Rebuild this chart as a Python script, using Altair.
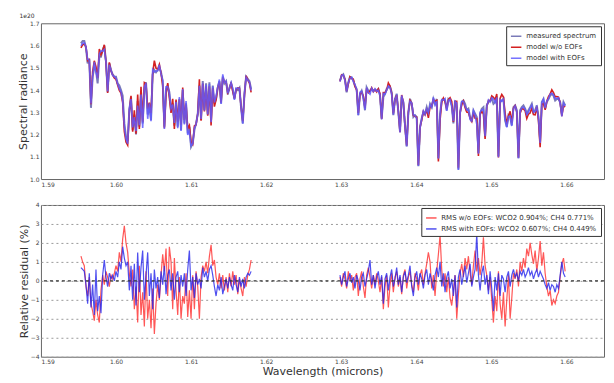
import altair as alt
import pandas as pd

# Wavelength grid (microns): two spectral windows sampled on the same step
STEP = 0.0002222
BAND1_START = 1.59533
BAND2_START = 1.62983

# Measured spectral radiance (units of 1e20)
radiance_band1 = [
    1.61, 1.62, 1.62, 1.59, 1.52, 1.54, 1.32, 1.46, 1.50, 1.49,
    1.43, 1.55, 1.55, 1.58, 1.60, 1.53, 1.39, 1.52, 1.49, 1.47,
    1.46, 1.46, 1.43, 1.42, 1.40, 1.375, 1.25, 1.19, 1.17, 1.31,
    1.37, 1.22, 1.29, 1.20, 1.35, 1.235, 1.39, 1.25, 1.40, 1.435,
    1.29, 1.33, 1.265, 1.47, 1.49, 1.48, 1.49, 1.50, 1.48, 1.44,
    1.235, 1.405, 1.42, 1.39, 1.31, 1.34, 1.24, 1.35, 1.235, 1.36,
    1.22, 1.40, 1.25, 1.34, 1.205, 1.235, 1.145, 1.16, 1.22, 1.25,
    1.29, 1.42, 1.265, 1.44, 1.31, 1.43, 1.29, 1.435, 1.265, 1.42,
    1.34, 1.36, 1.41, 1.44, 1.34, 1.46, 1.43, 1.44, 1.38, 1.41,
    1.43, 1.40, 1.36, 1.405, 1.40, 1.41, 1.32, 1.25, 1.38, 1.46,
    1.45, 1.44, 1.405,
]
radiance_band2 = [
    1.442, 1.464, 1.471, 1.449, 1.390, 1.434, 1.459, 1.456, 1.442, 1.419,
    1.405, 1.287, 1.383, 1.397, 1.368, 1.309, 1.412, 1.397, 1.397, 1.405,
    1.397, 1.400, 1.397, 1.405, 1.375, 1.272, 1.368, 1.383, 1.405, 1.412,
    1.415, 1.390, 1.287, 1.360, 1.383, 1.301, 1.213, 1.368, 1.346, 1.242,
    1.146, 1.301, 1.360, 1.338, 1.279, 1.287, 1.279, 1.058, 1.235, 1.272,
    1.301, 1.294, 1.323, 1.294, 1.338, 1.323, 1.360, 1.338, 1.360, 1.094,
    1.294, 1.353, 1.360, 1.353, 1.309, 1.360, 1.353, 1.331, 1.250, 1.353,
    1.323, 1.043, 1.301, 1.346, 1.353, 1.338, 1.309, 1.316, 1.279, 1.257,
    1.309, 1.294, 1.279, 1.117, 1.294, 1.316, 1.323, 1.190, 1.331, 1.346,
    1.353, 1.360, 1.338, 1.346, 1.360, 1.102, 1.346, 1.353, 1.360, 1.264,
    1.235, 1.287, 1.279, 1.242, 1.323, 1.331, 1.309, 1.094, 1.309, 1.323,
    1.331, 1.316, 1.294, 1.309, 1.323, 1.338, 1.301, 1.309, 1.331, 1.279,
    1.168, 1.346, 1.360, 1.316, 1.346, 1.360, 1.375, 1.383, 1.375, 1.353,
    1.360, 1.360, 1.346, 1.294, 1.346, 1.331,
]

# Relative residuals (%) without / with EOFs
resid_wo_band1 = [
    1.3, 1.0, 0.8, -0.3, -0.8, 0.2, -1.2, -1.6, -2.1, -1.0,
    -1.8, -2.2, -0.5, 0.3, -0.2, 0.5, 0.2, -0.3, 0.3, 0.1,
    0.4, 0.8, 0.5, 1.5, 1.0, 2.2, 2.9, 2.0, 1.5, 0.4,
    -0.3, 0.6, -1.5, -0.3, -2.2, 0.8, -1.8, -0.6, -2.4, 0.5,
    -2.0, -1.0, -2.5, -0.4, -2.8, -1.2, -0.2, -1.0, 0.3, 1.4,
    0.5, 1.7, -0.8, 1.8, 1.0, -1.5, 1.2, -0.5, -1.8, 0.2,
    -2.0, -0.8, -1.2, 0.4, -1.9, -0.5, -2.0, 0.3, -1.5, 0.5,
    -0.3, -2.0, 0.2, 0.8, 0.5, 1.0, 0.4, 1.3, 1.9, 0.8,
    1.1, 0.2, -0.2, 0.4, -0.4, 0.3, -0.5, 0.2, -0.6, 0.4,
    -0.3, 0.5, -0.2, 0.3, -0.7, 0.1, -0.4, -0.8, 0.2, -0.3,
    0.3, 0.6, 1.1,
]
resid_with_band1 = [
    0.7, 0.6, 0.5, -0.2, -1.2, 0.4, -1.4, -0.2, -1.8, 0.6,
    -1.6, -0.8, -1.7, 0.3, 1.1, 0.2, -0.3, 0.4, 0.1, 0.3,
    0.0, 0.5, 0.2, 1.0, 0.6, 1.8, 1.2, 0.8, 1.0, -0.5,
    0.8, -1.0, 0.9, -1.3, 1.5, -0.6, 0.7, 1.6, -1.0, 0.3,
    1.5, -0.8, 0.4, -1.5, 0.6, -0.4, 0.2, -0.9, 0.5, -0.2,
    0.8, -0.7, 0.3, 0.6, -0.5, 0.4, -1.0, 0.2, 0.5, -0.6,
    0.3, -0.3, 0.4, -0.8, 0.6, 1.6, -0.5, 0.2, -0.9, 0.4,
    -0.2, 0.1, -0.4, 0.7, 0.2, 0.5, 0.0, 0.6, 0.8, 0.3,
    -0.3, -0.8, -0.2, -0.5, 0.2, -0.7, -0.3, 0.1, -0.4, 0.2,
    -0.2, -0.5, 0.3, -0.2, -0.6, 0.2, -0.3, 0.1, -0.4, 0.2,
    0.4, 0.3, 0.5,
]
resid_wo_band2 = [
    0.2, -0.3, 0.4, 0.1, -0.4, 0.5, 0.0, 0.3, -0.5, 0.2,
    0.4, -0.8, 0.1, 0.5, -0.3, -0.9, 0.3, 0.7, 0.2, -0.4,
    0.3, -0.2, 0.4, 0.0, -0.6, 0.2, -1.5, -0.3, 0.3, -1.4,
    -0.2, 0.4, -0.6, 0.2, 0.5, -0.3, 0.2, -0.7, 0.3, 0.6,
    -0.4, 0.2, 0.5, -0.2, -0.6, 0.4, 0.1, -0.5, 0.3, 0.6,
    -0.2, 0.4, 0.9, 1.5, 1.0, -0.4, 0.3, -0.8, 0.5, 1.4,
    2.4, 0.6, -0.3, 0.4, -0.6, 0.2, -0.9, -1.3, -0.5, 0.3,
    -2.0, -0.7, 0.4, 0.9, 0.2, 1.2, 0.6, 1.3, 0.4, -0.2,
    0.8, 1.6, 0.5, 1.2, 0.3, 0.9, 2.3, 0.8, 0.3, -0.5,
    0.2, -1.0, -2.2, -0.8, -1.6, 0.5, -1.2, -2.0, -0.6, -2.4,
    -1.0, 0.3, -2.0, -0.9, 0.4, 0.1, 0.6, -0.3, 1.0, 0.5,
    1.2, 0.7, 1.7, 1.3, 2.0, 1.4, 0.9, 1.6, 0.5, 1.2,
    2.1, 0.8, 1.5, 0.4, -0.3, -0.8, -0.5, -1.3, -1.0, -1.2,
    -0.8, -0.6, 0.2, 0.9, 1.2, 0.5,
]
resid_with_band2 = [
    0.3, -0.2, 0.2, 0.5, -0.3, 0.1, 0.4, -0.1, 0.2, -0.4,
    0.3, 0.0, -0.5, 0.2, 0.4, -0.3, 0.1, 0.5, 1.1, -0.2,
    0.3, -0.4, 0.2, 0.5, -0.2, 0.3, -1.2, 0.1, 0.4, -0.5,
    0.2, 0.6, -0.3, 0.1, 0.7, -0.2, 0.3, -0.6, 0.2, 0.5,
    -0.1, 0.3, 0.8, -0.3, -0.8, 0.2, 0.5, -0.2, 0.4, 0.1,
    -0.4, 0.3, 0.6, -0.2, 0.4, 0.0, -0.5, 0.3, 0.7, 0.2,
    1.0, -0.3, 0.4, -0.6, 0.2, 0.5, -0.4, 0.1, -0.8, 0.3,
    -1.4, 0.2, 0.6, -0.2, 0.3, 0.8, -0.1, 0.4, 0.9, -0.3,
    0.2, 0.6, 2.5, 0.3, -0.5, 0.4, 0.8, -0.2, 0.3, -0.7,
    0.5, -0.4, -1.6, 0.2, -0.5, 0.4, -0.8, 0.3, 0.1, -0.6,
    0.2, 0.5, -0.3, 0.3, 0.6, 0.2, 0.4, 0.0, 0.5, 0.3,
    0.6, 0.2, 0.4, 0.7, 0.3, 0.5, 0.1, 0.4, 0.6, 0.2,
    0.5, 0.3, 0.1, -0.2, -0.4, -0.1, -0.5, -0.2, -0.3, -0.6,
    -0.2, -0.4, 0.3, 1.0, 0.4, 0.2,
]

top_series = ["measured spectrum", "model w/o EOFs", "model with EOFs"]
top_colors = ["#7a7ab8", "#d42020", "rgba(95,90,255,0.85)"]
bot_series = ["RMS w/o EOFs: WCO2 0.904%; CH4 0.771%",
              "RMS with EOFs: WCO2 0.607%; CH4 0.449%"]
bot_colors = ["rgba(255,45,45,0.8)", "rgba(35,35,235,0.8)"]
x_ticks = [1.59, 1.60, 1.61, 1.62, 1.63, 1.64, 1.65, 1.66]
y_top_ticks = [1.0, 1.1, 1.2, 1.3, 1.4, 1.5, 1.6, 1.7]
y_bot_ticks = [-4, -3, -2, -1, 0, 1, 2, 3, 4]

bands = [
    ("b1", BAND1_START, radiance_band1, resid_wo_band1, resid_with_band1),
    ("b2", BAND2_START, radiance_band2, resid_wo_band2, resid_with_band2),
]

top_rows, bot_rows = [], []
for k, s in enumerate(top_series):
    for band, start, meas, rwo, rwi in bands:
        for i, m in enumerate(meas):
            wl = round(start + i * STEP, 6)
            if k == 0:
                v = m
            elif k == 1:
                v = m * (1 - rwo[i] / 100)
            else:
                v = m * (1 - rwi[i] / 100)
            top_rows.append({"wl": wl, "rad": v, "series": s, "band": band})
for k, s in enumerate(bot_series):
    for band, start, meas, rwo, rwi in bands:
        vals = rwo if k == 0 else rwi
        for i, r in enumerate(vals):
            wl = round(start + i * STEP, 6)
            bot_rows.append({"wl": wl, "res": r, "series": s, "band": band})

df_top = pd.DataFrame(top_rows)
df_bot = pd.DataFrame(bot_rows)
df_zero = pd.DataFrame({"res": [0]})

FONT = "DejaVu Sans"
xscale = alt.Scale(domain=[1.59, 1.665], nice=False, zero=False)

def legend():
    return alt.Legend(orient="top-right", offset=3, title=None, strokeColor="#333",
                      fillColor="white", padding=4, labelFontSize=7, labelFont=FONT,
                      labelColor="#333", symbolType="stroke", symbolSize=110,
                      symbolStrokeWidth=1.5, rowPadding=2, labelLimit=260, cornerRadius=0)

top_base = alt.Chart(df_top).encode(
    x=alt.X("wl:Q", scale=xscale, axis=alt.Axis(values=x_ticks, format=".2f", title=None)),
    y=alt.Y("rad:Q", scale=alt.Scale(domain=[1.0, 1.7], nice=False, zero=False),
            axis=alt.Axis(values=y_top_ticks, format=".1f", title="Spectral radiance",
                          grid=False)),
    color=alt.Color("series:N", scale=alt.Scale(domain=top_series, range=top_colors),
                    legend=legend()),
    detail="band:N",
)
widths = [2.0, 1.6, 1.6]
top = alt.layer(*[
    top_base.transform_filter(alt.datum.series == s).mark_line(strokeWidth=w)
    for s, w in zip(top_series, widths)
]).properties(width=564, height=156,
              title=alt.TitleParams("1e20", anchor="start", fontSize=6, fontWeight="normal",
                                    font=FONT, color="#333", offset=1, dx=2))

y_bot = alt.Y("res:Q", scale=alt.Scale(domain=[-4, 4], nice=False),
              axis=alt.Axis(values=y_bot_ticks, format="d", title="Relative residual (%)",
                            grid=True, gridDash=[2, 3], gridColor="#9a9a9a"))
bot_base = alt.Chart(df_bot).encode(
    x=alt.X("wl:Q", scale=xscale,
            axis=alt.Axis(values=x_ticks, format=".2f", title="Wavelength (microns)")),
    y=y_bot,
    color=alt.Color("series:N", scale=alt.Scale(domain=bot_series, range=bot_colors),
                    legend=legend()),
    detail="band:N",
)
zero_rule = alt.Chart(df_zero).mark_rule(color="#333", strokeDash=[3, 3], strokeWidth=1.3).encode(
    y=y_bot)
bottom = alt.layer(
    *[bot_base.transform_filter(alt.datum.series == s).mark_line(strokeWidth=1.2)
      for s in bot_series],
    zero_rule,
).properties(width=564, height=152)

chart = alt.vconcat(top, bottom, spacing=13).resolve_scale(color="independent").properties(
    padding={"left": 8, "top": 4, "right": 0, "bottom": 0},
    background="white",
).configure_view(stroke="#666", strokeWidth=1).configure_axis(
    labelFont=FONT, labelFontSize=6, labelColor="#444", labelPadding=2,
    titleFont=FONT, titleFontSize=11, titleFontWeight="normal", titleColor="#333",
    titlePadding=1, domain=False, ticks=False,
).configure_axisX(grid=False)

chart.save("out.html", embed_options={"renderer": "svg", "actions": False})
